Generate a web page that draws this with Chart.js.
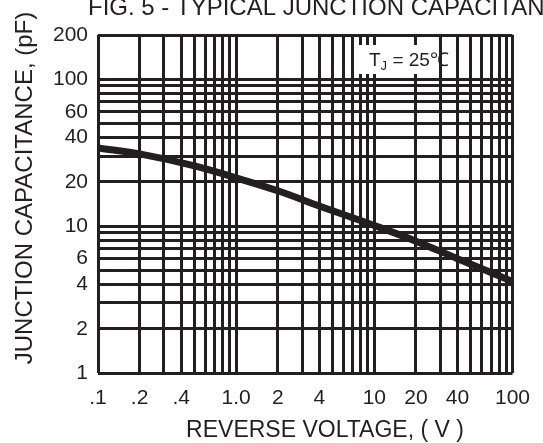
<!DOCTYPE html>
<html>
<head>
<meta charset="utf-8">
<script src="https://cdn.jsdelivr.net/npm/chart.js@4"></script>
<style>
    html, body { margin: 0; padding: 0; background: #fff; }
</style>
</head>
<body>
<canvas id="grafico" width="543" height="443"></canvas>
<script>
const tensoes = [0.1, 0.2, 0.5, 1, 2, 4, 10, 20, 40, 100];
const capacitancias = [34, 31, 25.7, 21.3, 17.4, 13.7, 10.1, 7.9, 6, 4.2];

const gradeX = [0.1, 0.2, 0.3, 0.4, 0.5, 0.6, 0.7, 0.8, 0.9,
                1, 2, 3, 4, 5, 6, 7, 8, 9,
                10, 20, 30, 40, 50, 60, 70, 80, 90, 100];
const rotulosXValores = [0.1, 0.2, 0.4, 1, 2, 4, 10, 20, 40, 100];
const rotulosXTextos = ['.1', '.2', '.4', '1.0', '2', '4', '10', '20', '40', '100'];

const gradeY = [1, 2, 3, 4, 5, 6, 7, 8, 9,
                10, 20, 30, 40, 50, 60, 70, 80, 90, 100, 200];
const rotulosY = [1, 2, 4, 6, 10, 20, 40, 60, 100, 200];

const corTraco = '#231f20';
const fonte = "'Liberation Sans', Arial, sans-serif";

// titulos e caixa do TJ desenhados a mao
const textosExtras = {
    id: 'textosExtras',
    afterDraw(chart) {
        const ctx = chart.ctx;
        const x = chart.scales.x;
        ctx.save();

        // caixa branca atras do TJ = 25C
        const bx1 = x.getPixelForValue(7.4);
        const bx2 = x.getPixelForValue(29);
        ctx.fillStyle = '#fff';
        ctx.fillRect(bx1, 45, bx2 - bx1, 29);

        ctx.fillStyle = corTraco;
        ctx.textBaseline = 'alphabetic';
        ctx.textAlign = 'left';
        ctx.font = '19px ' + fonte;
        ctx.fillText('T', 369, 66);
        let w = ctx.measureText('T').width;
        ctx.font = '13px ' + fonte;
        ctx.fillText('J', 369 + w, 70);
        let wj = ctx.measureText('J').width;
        ctx.font = '19px ' + fonte;
        ctx.fillText(' = 25\u2103', 369 + w + wj, 66);

        ctx.font = '24px ' + fonte;
        ctx.fillText('FIG. 5 - TYPICAL JUNCTION CAPACITANCE', 88, 15);

        ctx.textAlign = 'center';
        ctx.font = '23px ' + fonte;
        ctx.fillText('REVERSE VOLTAGE, ( V )', 325, 437);

        ctx.translate(32, 188);
        ctx.rotate(-Math.PI / 2);
        ctx.font = '24px ' + fonte;
        ctx.fillText('JUNCTION CAPACITANCE, (pF)', 0, 0);
        ctx.restore();
    }
};

window.onload = function() {
    const ctx = document.getElementById('grafico').getContext('2d');
    window.grafico = new Chart(ctx, {
        type: 'line',
        data: {
            datasets: [{
                data: tensoes.map((v, i) => ({x: v, y: capacitancias[i]})),
                borderColor: corTraco,
                borderWidth: 7,
                pointRadius: 0,
                tension: 0.4,
                fill: false
            }]
        },
        options: {
            responsive: false,
            animation: false,
            devicePixelRatio: 1,
            layout: { padding: { top: 35, right: 25, left: 0, bottom: 0 } },
            plugins: {
                legend: { display: false },
                title: { display: false },
                tooltip: { enabled: false }
            },
            scales: {
                x: {
                    type: 'logarithmic',
                    min: 0.1,
                    max: 100,
                    afterBuildTicks: (eixo) => { eixo.ticks = gradeX.map((v) => ({value: v})); },
                    afterFit: (eixo) => { eixo.height = 70; },
                    grid: { color: corTraco, lineWidth: 3, drawTicks: false },
                    border: { display: false },
                    ticks: {
                        autoSkip: false,
                        maxRotation: 0,
                        padding: 13,
                        color: corTraco,
                        font: { family: fonte, size: 21 },
                        callback: function(valor) {
                            const i = rotulosXValores.indexOf(valor);
                            return i >= 0 ? rotulosXTextos[i] : '';
                        }
                    }
                },
                y: {
                    type: 'logarithmic',
                    min: 1,
                    max: 200,
                    afterBuildTicks: (eixo) => { eixo.ticks = gradeY.map((v) => ({value: v})); },
                    afterFit: (eixo) => { eixo.width = 98; },
                    grid: { color: corTraco, lineWidth: 3, drawTicks: false },
                    border: { display: false },
                    ticks: {
                        autoSkip: false,
                        padding: 10,
                        color: corTraco,
                        font: { family: fonte, size: 21 },
                        callback: function(valor) {
                            return rotulosY.indexOf(valor) >= 0 ? String(valor) : '';
                        }
                    }
                }
            }
        },
        plugins: [textosExtras]
    });
};
</script>
</body>
</html>
